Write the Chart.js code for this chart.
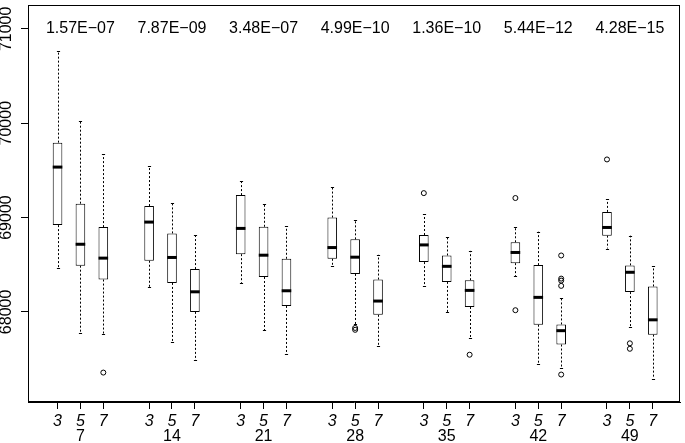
<!DOCTYPE html>
<html>
<head>
<meta charset="utf-8">
<script src="https://cdn.jsdelivr.net/npm/chart.js@4/dist/chart.umd.min.js"></script>
<style>
    html, body { margin: 0; padding: 0; background: #fff; }
    #wrap { width: 685px; height: 443px; position: relative; }
</style>
</head>
<body>
<div id="wrap"><canvas id="boxChart"></canvas></div>
<script>
// group labels (bottom row) and sub labels (italic row)
const windows = ['7', '14', '21', '28', '35', '42', '49'];
const orders = ['3', '5', '7'];
const pValues = ['1.57E\u221207', '7.87E\u221209', '3.48E\u221207', '4.99E\u221210', '1.36E\u221210', '5.44E\u221212', '4.28E\u221215'];
const yTicks = [68000, 69000, 70000, 71000];

// one entry per box, 3 boxes per group
const whiskerLow = [68465, 67780, 67766, 68262, 67678, 67486, 68307, 67808, 67549, 68490, 67871, 67636,
    68276, 67997, 67720, 68381, 67451, 67405, 68672, 67843, 67294];
const boxQ1 = [68920, 68490, 68343, 68542, 68307, 68000, 68612, 68370, 68063, 68563, 68402, 67969,
    68528, 68318, 68052, 68517, 67864, 67654, 68808, 68210, 67759];
const boxMedian = [69535, 68717, 68570, 68952, 68577, 68213, 68885, 68601, 68224, 68682, 68580, 68115,
    68710, 68483, 68228, 68630, 68154, 67801, 68895, 68420, 67916];
const boxQ3 = [69794, 69147, 68899, 69122, 68832, 68454, 69238, 68902, 68563, 69000, 68769, 68343,
    68815, 68598, 68336, 68738, 68496, 67867, 69060, 68493, 68270];
const whiskerHigh = [70767, 70022, 69672, 69542, 69157, 68811, 69385, 69140, 68909, 69329, 68973, 68605,
    69033, 68790, 68647, 68902, 68850, 68144, 69193, 68808, 68486];
const outliers = [[], [], [67357], [], [], [], [], [], [], [], [67830, 67810], [],
    [69259], [], [67546], [69207, 68018], [], [68598, 68353, 68332, 68276, 67336], [69616], [67667, 67609], []];

// x position of every box: 3 per group, one empty slot between groups
const positions = whiskerLow.map((_, i) => Math.floor(i / 3) * 4 + (i % 3) + 1);
const groupCenters = windows.map((_, g) => g * 4 + 2);

const FONT = 'Liberation Sans, Arial, sans-serif';
Chart.defaults.color = '#000';
Chart.defaults.font.family = FONT;
Chart.defaults.font.size = 16;

const BOX_HALF = 0.21;

const boxExtras = {
    id: 'boxExtras',
    afterDatasetsDraw(chart) {
        const { ctx, chartArea, scales: { x, y } } = chart;
        ctx.save();
        ctx.strokeStyle = '#000';

        positions.forEach((p, i) => {
            const px = x.getPixelForValue(p);
            const half = x.getPixelForValue(p + BOX_HALF) - px;
            const cap = half * 0.33;

            // dashed whiskers
            ctx.lineWidth = 1;
            ctx.setLineDash([2, 2]);
            ctx.beginPath();
            ctx.moveTo(Math.round(px) + 0.5, y.getPixelForValue(boxQ3[i]));
            ctx.lineTo(Math.round(px) + 0.5, y.getPixelForValue(whiskerHigh[i]));
            ctx.moveTo(Math.round(px) + 0.5, y.getPixelForValue(boxQ1[i]));
            ctx.lineTo(Math.round(px) + 0.5, y.getPixelForValue(whiskerLow[i]));
            ctx.stroke();

            // staples
            ctx.setLineDash([]);
            ctx.beginPath();
            [whiskerHigh[i], whiskerLow[i]].forEach(v => {
                const py = Math.round(y.getPixelForValue(v)) + 0.5;
                ctx.moveTo(Math.round(px) + 0.5 - cap, py);
                ctx.lineTo(Math.round(px) + 0.5 + cap, py);
            });
            ctx.stroke();

            // median
            ctx.lineWidth = 3;
            ctx.beginPath();
            const my = y.getPixelForValue(boxMedian[i]);
            ctx.moveTo(px - half, my);
            ctx.lineTo(px + half, my);
            ctx.stroke();
        });

        ctx.fillStyle = '#000';
        ctx.font = '16px ' + FONT;
        ctx.textAlign = 'center';
        ctx.textBaseline = 'middle';
        // p-values above each group
        groupCenters.forEach((c, g) => {
            ctx.fillText(pValues[g], x.getPixelForValue(c), y.getPixelForValue(71000));
        });
        // window sizes under the italic order labels
        groupCenters.forEach((c, g) => {
            ctx.fillText(windows[g], x.getPixelForValue(c), x.bottom - 6);
        });

        // plot frame
        ctx.lineWidth = 1;
        ctx.strokeRect(chartArea.left + 0.5, chartArea.top + 0.5, chartArea.width - 1, chartArea.height - 1);
        ctx.restore();
    }
};

const boxData = positions.map((p, i) => ({ x: p, y: [boxQ1[i], boxQ3[i]] }));
const outlierData = [];
outliers.forEach((list, i) => list.forEach(v => outlierData.push({ x: positions[i], y: v })));

new Chart(document.getElementById('boxChart'), {
    type: 'bar',
    data: {
        datasets: [{
            type: 'bar',
            data: boxData,
            backgroundColor: '#fff',
            borderColor: '#000',
            borderWidth: 1,
            borderSkipped: false,
            categoryPercentage: 1,
            barPercentage: BOX_HALF * 2
        }, {
            type: 'scatter',
            data: outlierData,
            pointStyle: 'circle',
            pointRadius: 2.5,
            borderColor: '#000',
            backgroundColor: 'rgba(0,0,0,0)',
            borderWidth: 1
        }]
    },
    options: {
        responsive: true,
        maintainAspectRatio: false,
        animation: false,
        layout: { padding: { top: 1, right: 2, left: 0, bottom: 0 } },
        plugins: { legend: { display: false }, tooltip: { enabled: false } },
        scales: {
            x: {
                type: 'linear',
                position: 'bottom',
                min: -0.29,
                max: 28.19,
                offset: false,
                grid: { display: true, offset: false, drawOnChartArea: false, tickLength: 7, color: '#000' },
                border: { display: true, color: '#000' },
                afterBuildTicks: s => { s.ticks = positions.map(v => ({ value: v })); },
                afterFit: s => { s.height = 41; },
                ticks: {
                    autoSkip: false,
                    maxRotation: 0,
                    padding: 3,
                    font: { size: 16, style: 'italic' },
                    callback: (v, idx) => orders[idx % 3]
                }
            },
            y: {
                type: 'linear',
                min: 67045,
                max: 71253,
                grid: { display: true, drawOnChartArea: false, tickLength: 7, color: '#000' },
                border: { display: true, color: '#000' },
                afterBuildTicks: s => { s.ticks = yTicks.map(v => ({ value: v })); },
                afterFit: s => { s.width = 28; },
                ticks: {
                    autoSkip: false,
                    minRotation: 90,
                    maxRotation: 90,
                    crossAlign: 'center',
                    padding: -8,
                    font: { size: 16 },
                    callback: v => String(v)
                }
            }
        }
    },
    plugins: [boxExtras]
});
</script>
</body>
</html>
